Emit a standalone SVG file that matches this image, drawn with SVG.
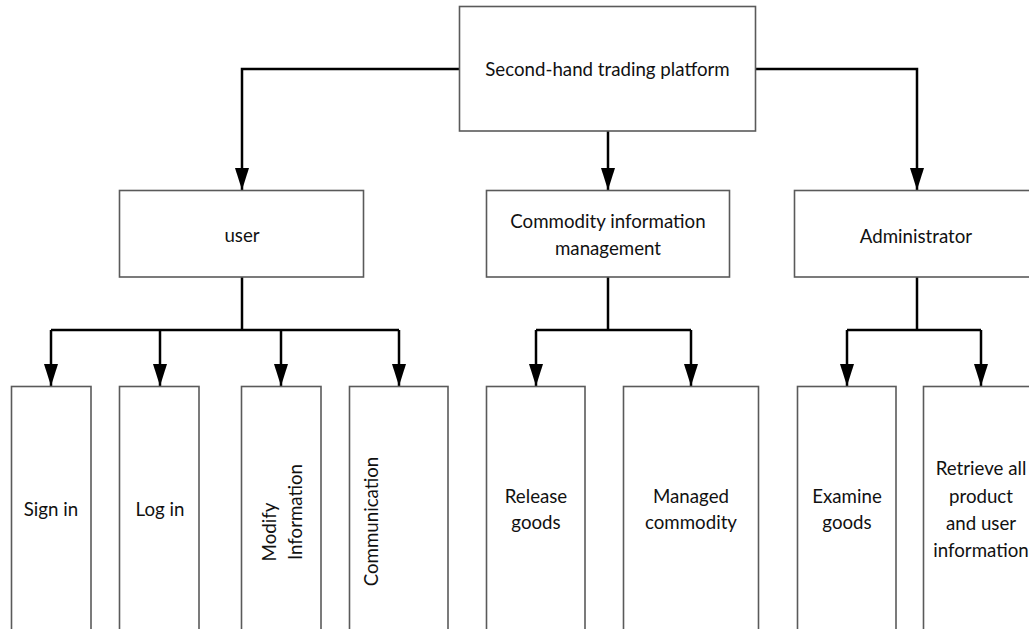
<svg xmlns="http://www.w3.org/2000/svg" width="1029" height="629" viewBox="0 0 1029 629">
<style>
.box{fill:#fff;stroke:#5a5a5a;stroke-width:1.6}
.t{font-family:Lato,"Liberation Sans",sans-serif;font-size:18.7px;fill:#111;text-anchor:middle}
.c{fill:none;stroke:#000;stroke-width:2.5}
</style>
<defs>
<marker id="ah" markerUnits="userSpaceOnUse" markerWidth="22" markerHeight="14" refX="22" refY="7" orient="auto" viewBox="0 0 22 14">
<path d="M0,0 L22,7 L0,14 Z" fill="#000"/>
</marker>
</defs>
<rect width="1029" height="629" fill="#fff"/>
<g id="connectors">
<path class="c" d="M459,69 H242 V190" marker-end="url(#ah)"/>
<path class="c" d="M756,69 H917 V190" marker-end="url(#ah)"/>
<path class="c" d="M608,131 V190" marker-end="url(#ah)"/>
<path class="c" d="M242,277 V330"/>
<path class="c" d="M51,330 H399"/>
<path class="c" d="M51,330 V386" marker-end="url(#ah)"/>
<path class="c" d="M160,330 V386" marker-end="url(#ah)"/>
<path class="c" d="M281,330 V386" marker-end="url(#ah)"/>
<path class="c" d="M399,330 V386" marker-end="url(#ah)"/>
<path class="c" d="M608,277 V330"/>
<path class="c" d="M536,330 H691"/>
<path class="c" d="M536,330 V386" marker-end="url(#ah)"/>
<path class="c" d="M691,330 V386" marker-end="url(#ah)"/>
<path class="c" d="M917,277 V330"/>
<path class="c" d="M847,330 H981"/>
<path class="c" d="M847,330 V386" marker-end="url(#ah)"/>
<path class="c" d="M981,330 V386" marker-end="url(#ah)"/>
</g>
<g id="platform"><rect class="box" x="459.5" y="6.5" width="296" height="124.5"/><text class="t" x="607.5" y="76">Second-hand trading platform</text></g>
<g id="user"><rect class="box" x="119.5" y="190.5" width="244" height="86.5"/><text class="t" x="242" y="242">user</text></g>
<g id="commodity"><rect class="box" x="486.5" y="190.5" width="243" height="86.5"/><text class="t" x="608" y="228">Commodity information</text><text class="t" x="608" y="255">management</text></g>
<g id="admin"><rect class="box" x="794.5" y="190.5" width="250" height="86.5"/><text class="t" x="916" y="243">Administrator</text></g>
<g id="signin"><rect class="box" x="11.5" y="386.5" width="79.5" height="260"/><text class="t" x="51" y="516">Sign in</text></g>
<g id="login"><rect class="box" x="119.5" y="386.5" width="79.5" height="260"/><text class="t" x="160" y="516">Log in</text></g>
<g id="modify"><rect class="box" x="241.5" y="386.5" width="79.5" height="260"/><text class="t" transform="translate(276,532) rotate(-90)">Modify</text><text class="t" transform="translate(302,512) rotate(-90)">Information</text></g>
<g id="communication"><rect class="box" x="349.5" y="386.5" width="98.5" height="260"/><text class="t" transform="translate(378,521.5) rotate(-90)">Communication</text></g>
<g id="release"><rect class="box" x="486.5" y="386.5" width="98.5" height="260"/><text class="t" x="536" y="503">Release</text><text class="t" x="536" y="529">goods</text></g>
<g id="managed"><rect class="box" x="623.5" y="386.5" width="135" height="260"/><text class="t" x="691" y="503">Managed</text><text class="t" x="691" y="529">commodity</text></g>
<g id="examine"><rect class="box" x="797.5" y="386.5" width="98.5" height="260"/><text class="t" x="847" y="503">Examine</text><text class="t" x="847" y="529">goods</text></g>
<g id="retrieve"><rect class="box" x="923.5" y="386.5" width="130" height="260"/><text class="t" x="981" y="475">Retrieve all</text><text class="t" x="981" y="503">product</text><text class="t" x="981" y="530">and user</text><text class="t" x="981" y="557">information</text></g>
</svg>
